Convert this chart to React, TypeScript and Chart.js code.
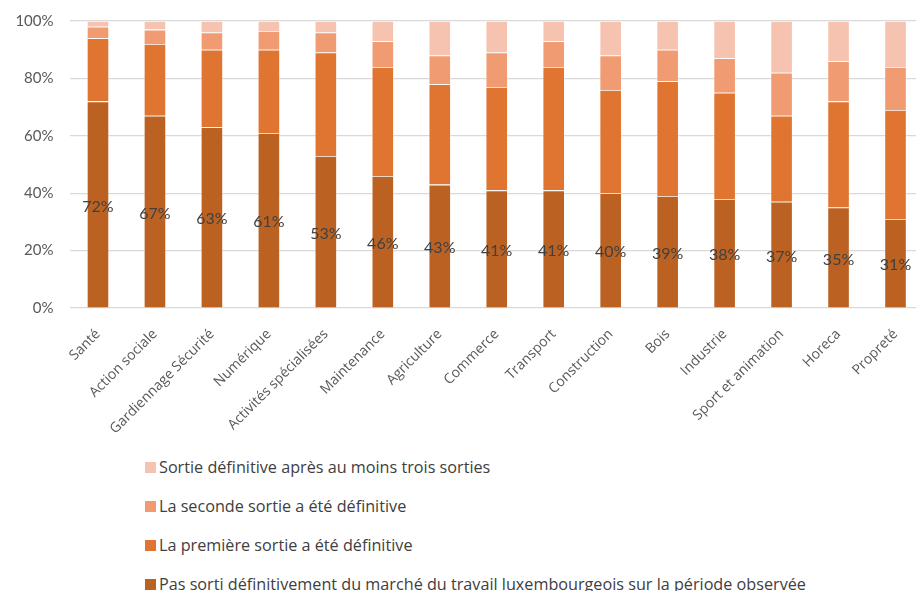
import React, { useEffect, useRef } from "react";
import { Chart, registerables } from "chart.js";

Chart.register(...registerables);

const categories = [
  "Santé", "Action sociale", "Gardiennage Sécurité", "Numérique", "Activités spécialisées",
  "Maintenance", "Agriculture", "Commerce", "Transport", "Construction",
  "Bois", "Industrie", "Sport et animation", "Horeca", "Propreté",
];
const notExited = [72, 67, 63, 61, 53, 46, 43, 41, 41, 40, 39, 38, 37, 35, 31];
const firstExit = [22, 25, 27, 29, 36, 38, 35, 36, 43, 36, 40, 37, 30, 37, 38];
const secondExit = [4, 5, 6, 6.5, 7, 9, 10, 12, 9, 12, 11, 12, 15, 14, 15];
const thirdExit = [2, 3, 4, 3.5, 4, 7, 12, 11, 7, 12, 10, 13, 18, 14, 16];
const yTicks = [0, 20, 40, 60, 80, 100];

const seriesNames = [
  "Pas sorti définitivement du marché du travail luxembourgeois sur la période observée",
  "La première sortie a été définitive",
  "La seconde sortie a été définitive",
  "Sortie définitive après au moins trois sorties",
];
const seriesColors = ["#BB6223", "#DF7530", "#F19B72", "#F7C3B1"];

const FONT = "Lato, 'Open Sans', sans-serif";
const FONT2 = "'Open Sans', Lato, sans-serif";

export default function App() {
  const ref = useRef<HTMLCanvasElement | null>(null);

  useEffect(() => {
    if (!ref.current) return;
    const labelPlugin = {
      id: "barLabels",
      afterDatasetsDraw(chart: any) {
        const ctx = chart.ctx;
        const meta = chart.getDatasetMeta(0);
        ctx.save();
        ctx.font = `16px ${FONT}`;
        ctx.fillStyle = "#404040";
        ctx.textAlign = "center";
        ctx.textBaseline = "middle";
        meta.data.forEach((bar: any, i: number) => {
          const { x, y, base } = bar.getProps(["x", "y", "base"], true);
          ctx.fillText(notExited[i] + "%", x, (y + base) / 2 + 2);
        });
        ctx.restore();
      },
    };
    const values = [notExited, firstExit, secondExit, thirdExit];
    const chart = new Chart(ref.current, {
      type: "bar",
      data: {
        labels: categories,
        datasets: values.map((v, i) => ({
          label: seriesNames[i],
          data: v,
          backgroundColor: seriesColors[i],
          borderColor: "rgba(255,255,255,0.55)",
          borderWidth: 0.8,
          barPercentage: 0.39,
          categoryPercentage: 1,
        })),
      },
      options: {
        responsive: false,
        animation: false,
        layout: { autoPadding: false, padding: { top: 21, right: 0, left: 0, bottom: 0 } },
        plugins: { legend: { display: false }, tooltip: { enabled: false } },
        scales: {
          x: {
            stacked: true,
            grid: { display: false, drawTicks: false },
            border: { display: false },
            ticks: {
              minRotation: 45,
              maxRotation: 45,
              autoSkip: false,
              padding: 18,
              color: "#595959",
              font: { family: FONT2, size: 14 },
            },
            afterFit: (s: any) => { s.height = 130; s.paddingLeft = 0; s.paddingRight = 0; },
          },
          y: {
            stacked: true,
            min: 0,
            max: 100,
            afterBuildTicks: (s: any) => { s.ticks = yTicks.map((v) => ({ value: v })); },
            grid: { color: "#D9D9D9", lineWidth: 1.2, drawTicks: false },
            border: { display: false },
            ticks: {
              padding: 16,
              color: "#595959",
              font: { family: FONT, size: 15 },
              callback: (v: any) => v + "%",
            },
            afterFit: (s: any) => { s.width = 69.5; s.paddingTop = 0; s.paddingBottom = 0; },
          },
        },
      },
      plugins: [labelPlugin],
    });
    return () => chart.destroy();
  }, []);

  const legendOrder = [3, 2, 1, 0];
  const legendY = [467, 506, 545, 584];

  return (
    <div style={{ position: "absolute", left: 0, top: 0, width: 916, height: 591, background: "#fff", overflow: "hidden" }}>
      <canvas ref={ref} width={924} height={438} style={{ position: "absolute", left: 0, top: 0 }} />
      {legendOrder.map((si, k) => (
        <div
          key={si}
          style={{
            position: "absolute",
            left: 145,
            top: legendY[k] - 12,
            height: 24,
            display: "flex",
            alignItems: "center",
            whiteSpace: "nowrap",
            fontFamily: FONT2,
            fontSize: 16.2,
            color: "#404040",
          }}
        >
          <span style={{ display: "inline-block", width: 11, height: 11, background: seriesColors[si], marginRight: 3 }} />
          <span>{seriesNames[si]}</span>
        </div>
      ))}
    </div>
  );
}
